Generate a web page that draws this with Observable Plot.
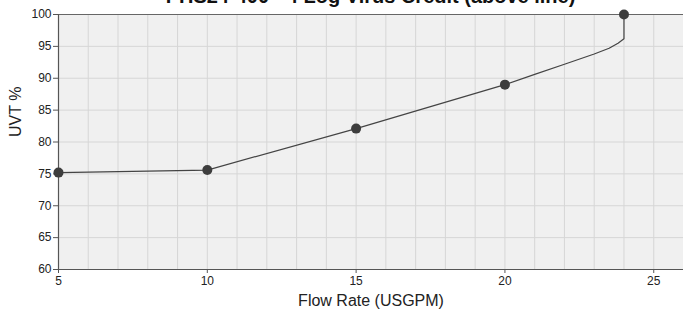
<!DOCTYPE html>
<html>
<head>
<meta charset="utf-8">
<script src="https://cdn.jsdelivr.net/npm/d3@7"></script>
<script src="https://cdn.jsdelivr.net/npm/@observablehq/plot@0.6"></script>
<style>
  html, body { margin: 0; padding: 0; background: #fff; overflow: hidden; }
  #wrap { position: relative; width: 683px; height: 313px; }
  #title { position: absolute; top: -15px; left: 58px; width: 625px; text-align: center;
    font: bold 20px "Liberation Sans", Arial, sans-serif; color: #111; white-space: nowrap; }
  svg { font-family: "Liberation Sans", Arial, sans-serif; }
</style>
</head>
<body>
<div id="wrap"><div id="title"></div></div>
<script>
const titleText = "PHS24-400 - 4 Log Virus Credit (above line)";
const xLabel = "Flow Rate (USGPM)";
const yLabel = "UVT %";
const markerFlow = [5, 10, 15, 20, 24];
const markerUvt = [75.2, 75.6, 82.1, 89.0, 100];
const curveFlow = [5, 10, 15, 20, 21, 22, 23, 23.5, 23.8, 24, 24];
const curveUvt = [75.2, 75.6, 82.1, 89.0, 90.6, 92.2, 93.8, 94.7, 95.5, 96.2, 100];
const xTicks = [5, 10, 15, 20, 25];
const yTicks = [60, 65, 70, 75, 80, 85, 90, 95, 100];
const xGrid = d3.range(5, 27, 1);

document.getElementById("title").textContent = titleText;

const markers = markerFlow.map((f, i) => ({flow: f, uvt: markerUvt[i]}));
const curve = curveFlow.map((f, i) => ({flow: f, uvt: curveUvt[i]}));

const chart = Plot.plot({
  width: 683,
  height: 313,
  marginTop: 14,
  marginBottom: 44,
  marginLeft: 58,
  marginRight: 0,
  style: {background: "transparent", fontSize: "12px", color: "#222"},
  x: {domain: [5, 26], label: null},
  y: {domain: [60, 100], label: null},
  marks: [
    Plot.frame({fill: "#f0f0f0", stroke: null}),
    Plot.ruleX(xGrid, {stroke: "#d6d6d6", strokeWidth: 1}),
    Plot.ruleY(yTicks, {stroke: "#d6d6d6", strokeWidth: 1}),
    Plot.ruleY([100], {stroke: "#666", strokeWidth: 1.2}),
    Plot.ruleY([60], {stroke: "#555", strokeWidth: 1.2}),
    Plot.ruleX([5], {stroke: "#555", strokeWidth: 1.2}),
    Plot.axisX({ticks: xTicks, tickSize: 4, tickPadding: 3, stroke: "#555", fontSize: 12, label: null}),
    Plot.axisY({ticks: yTicks, tickSize: 5, tickPadding: 2, stroke: "#555", fontSize: 12, label: null}),
    Plot.line(curve, {x: "flow", y: "uvt", stroke: "#444", strokeWidth: 1.2, curve: "linear"}),
    Plot.dot(markers, {x: "flow", y: "uvt", r: 5, fill: "#3d3d3d", stroke: null}),
    Plot.text([xLabel], {frameAnchor: "bottom", dy: 36, fontSize: 16, fill: "#222"}),
    Plot.text([yLabel], {frameAnchor: "left", dx: -43, dy: -5, rotate: -90, fontSize: 16, fill: "#222"})
  ]
});
document.getElementById("wrap").appendChild(chart);
chart.style.position = "absolute";
chart.style.top = "0";
chart.style.left = "0";
</script>
</body>
</html>
